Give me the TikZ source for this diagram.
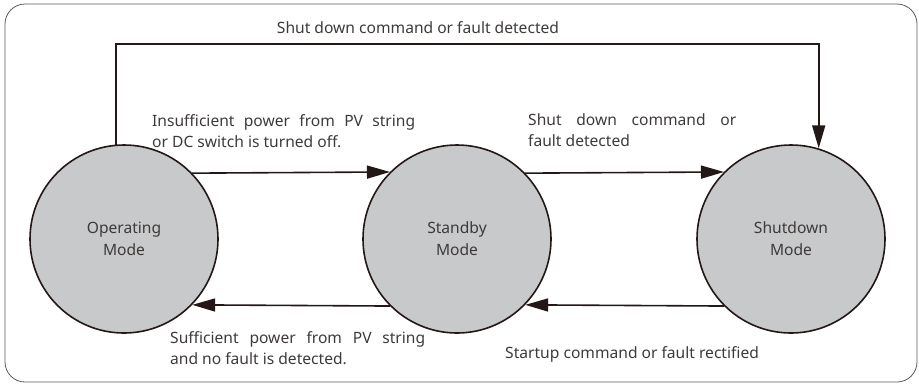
\documentclass[tikz,border=0pt]{standalone}
\usepackage{fontspec}
\setmainfont{Noto Sans}
\usetikzlibrary{arrows.meta,calc}
\definecolor{inkline}{HTML}{231815}
\definecolor{modefill}{HTML}{C8C9CA}
\definecolor{labeltext}{HTML}{3E3A39}
\definecolor{framegray}{HTML}{5A5A5A}
\tikzset{
  x=1pt, y=-1pt,
  mode/.style={circle, draw=inkline, line width=1.6pt, fill=modefill,
    minimum size=188pt, inner sep=0pt, text=labeltext, align=center,
    font=\fontsize{15.6}{22}\selectfont},
  flow/.style={draw=inkline, line width=1.6pt,
    -{Triangle[length=23pt,width=13pt]}},
  cond/.style={text=labeltext, inner sep=0pt, align=left,
    font=\fontsize{15.6}{21}\selectfont},
}
\begin{document}
\begin{tikzpicture}
  \useasboundingbox (0,0) rectangle (919,384);
  % outer frame
  \draw[framegray, line width=0.8pt, rounded corners=20pt] (5,4) rectangle (917,382);

  % the three operating states
  \node[mode] (op) at (124,239) {Operating\\Mode};
  \node[mode] (sb) at (457,239) {Standby\\Mode};
  \node[mode] (sd) at (791,239) {Shutdown\\Mode};

  % transitions between states
  \draw[flow] (op.44.6) -- (sb.135.4);
  \draw[flow] (sb.44.6) -- (sd.135.4);
  \draw[flow] (sd.-135.4) -- (sb.-44.6);
  \draw[flow] (sb.-135.4) -- (op.-44.6);
  \coordinate (topline) at (0,44);
  \draw[flow] (op.95.5) |- (topline -| sd.73.3) -- (sd.73.3);

  % transition conditions (two-line labels are anchored on their last line)
  \node[cond, anchor=base] at (418,33) {Shut down command or fault detected};
  \node[cond, anchor=base west] at (152,147)
    {\makebox[263pt][s]{Insufficient power from PV string}\\or DC switch is turned off.};
  \node[cond, anchor=base west] at (528,146)
    {\makebox[208pt][s]{Shut down command or}\\fault detected};
  \node[cond, anchor=base west] at (170,364)
    {\makebox[255pt][s]{Sufficient power from PV string}\\and no fault is detected.};
  \node[cond, anchor=base west] at (505,358) {Startup command or fault rectified};
\end{tikzpicture}
\end{document}
